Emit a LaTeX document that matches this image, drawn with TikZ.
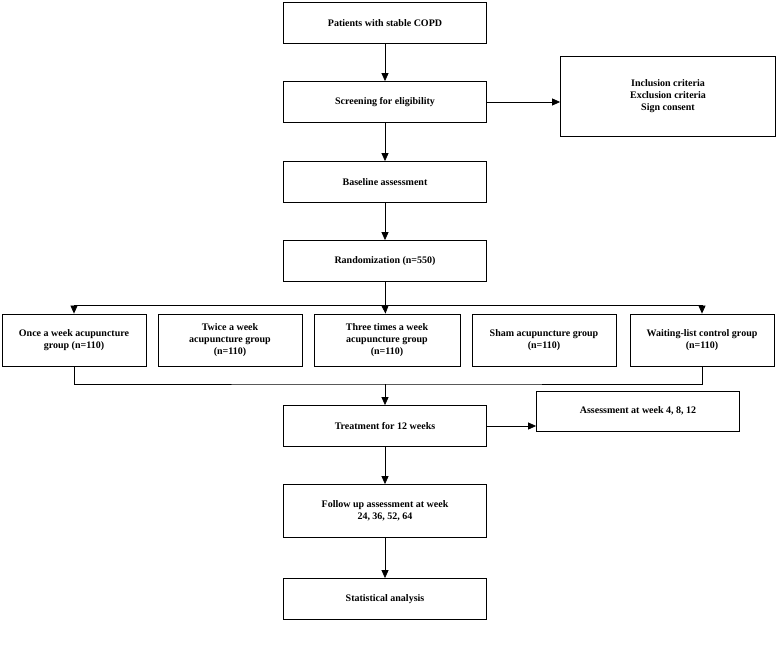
\documentclass[tikz,border=0pt]{standalone}
\usepackage{fontspec}
\setmainfont{Liberation Serif}
\usetikzlibrary{arrows.meta}
\tikzset{
	box/.style={draw, thick, minimum width=203pt, minimum height=41pt, align=center, font=\bfseries\fontsize{10}{12}\selectfont},
	grp/.style={box, minimum width=144pt, minimum height=52pt},
	arr/.style={thick, -{Triangle[length=8pt,width=7pt]}}
}
\begin{document}
\begin{tikzpicture}[x=1pt,y=-1pt]
	\useasboundingbox (0,0) rectangle (777,655);
	\node[box] (pat) at (385,23) {Patients with stable COPD};
	\node[box] (scr) at (385,102) {Screening for eligibility};
	\node[box, minimum width=215pt, minimum height=80pt] (crit) at (668,96) {Inclusion criteria\\Exclusion criteria\\Sign consent};
	\node[box] (base) at (385,182) {Baseline assessment};
	\node[box] (rand) at (385,261) {Randomization (n=550)};
	
	\node[grp] (g1) at (74,340) {Once a week acupuncture\\group (n=110)};
	\node[grp] (g2) at (230,340) {Twice a week\\acupuncture group\\(n=110)};
	\node[grp, minimum width=146pt] (g3) at (387,340) {Three times a week\\acupuncture group\\(n=110)};
	\node[grp] (g4) at (544,340) {Sham acupuncture group\\(n=110)};
	\node[grp] (g5) at (702,340) {Waiting-list control group\\(n=110)};
	
	\node[box] (treat) at (385,426) {Treatment for 12 weeks};
	\node[box, minimum height=40pt] (ass) at (638,411) {Assessment at week 4, 8, 12};
	\node[box, minimum height=53pt] (fol) at (385,511) {Follow up assessment at week\\24, 36, 52, 64};
	\node[box] (stat) at (385,599) {Statistical analysis};
	
	\coordinate (top) at (385,305);
	\coordinate (low) at (385,384);
	
	\draw[arr] (pat) -- (scr);
	\draw[arr] (scr) -- (scr -| crit.west);
	\draw[arr] (scr) -- (base);
	\draw[arr] (base) -- (rand);
	\draw[thick] (rand) -- (top);
	\draw[arr] (top) -| (g1);
	\draw[arr] (top) -| (g5);
	\draw[arr] (top) -- (g3);
	\draw[thick] (g1.south) |- (low) -| (g5.south);
	\draw[arr] (low) -- (treat);
	\draw[arr] (treat) -- (treat -| ass.west);
	\draw[arr] (treat) -- (fol);
	\draw[arr] (fol) -- (stat);
\end{tikzpicture}
\end{document}
